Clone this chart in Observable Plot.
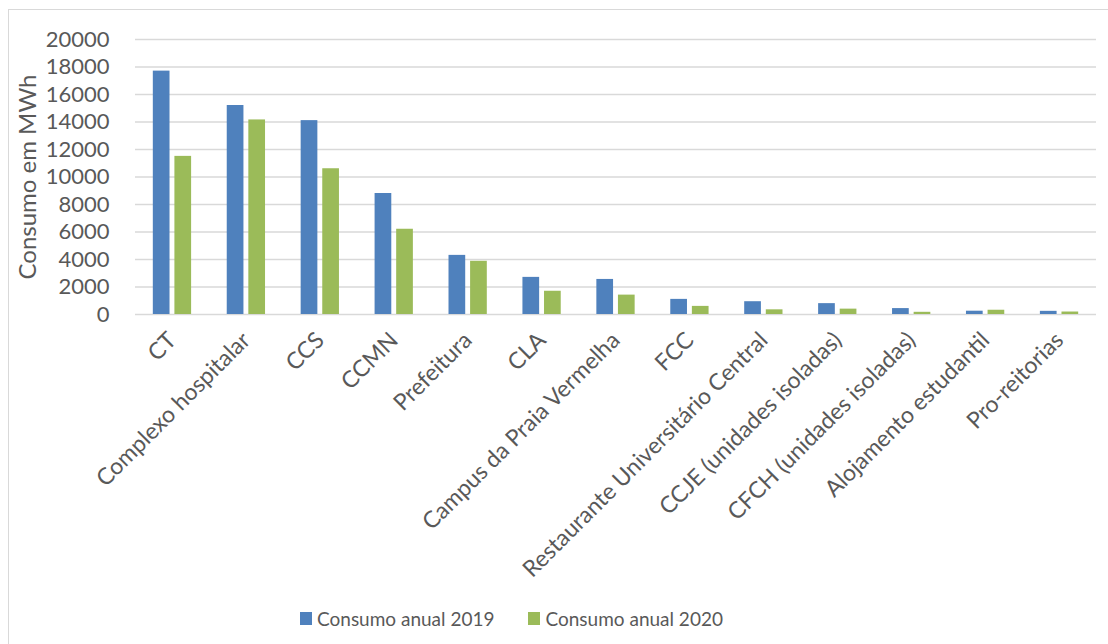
<!DOCTYPE html>
<html>
<head>
<meta charset="utf-8">
<script src="https://cdn.jsdelivr.net/npm/d3@7"></script>
<script src="https://cdn.jsdelivr.net/npm/@observablehq/plot@0.6"></script>
<style>
  html, body { margin: 0; padding: 0; background: #fff; }
  #wrap { position: relative; width: 1108px; height: 644px; overflow: hidden; font-family: Lato, "Open Sans", sans-serif; }
  #frame { position: absolute; left: 8px; top: 9px; width: 1200px; height: 700px; border-left: 1.5px solid #d9d9d9; border-top: 1.5px solid #d9d9d9; }
  #chart { position: absolute; left: 0; top: 0; }
  #legend { position: absolute; left: 300px; top: 607px; display: flex; align-items: center; color: #595959; font-size: 19px; }
  .item { display: flex; align-items: center; margin-right: 34px; }
  .sw { width: 12px; height: 13px; margin-right: 5px; }
</style>
</head>
<body>
<div id="wrap">
  <div id="frame"></div>
  <div id="chart"></div>
  <div id="legend"></div>
</div>
<script>
const categorias = ["CT", "Complexo hospitalar", "CCS", "CCMN", "Prefeitura", "CLA", "Campus da Praia Vermelha", "FCC", "Restaurante Universitário Central", "CCJE (unidades isoladas)", "CFCH (unidades isoladas)", "Alojamento estudantil", "Pro-reitorias"];
const consumo2019 = [17700, 15200, 14100, 8800, 4300, 2700, 2550, 1100, 930, 790, 430, 240, 230];
const consumo2020 = [11500, 14150, 10600, 6200, 3870, 1690, 1410, 590, 340, 390, 160, 310, 180];
const series = ["Consumo anual 2019", "Consumo anual 2020"];
const cores = ["#4F81BD", "#9BBB59"];
const yTicks = d3.range(0, 20001, 2000);

const data = categorias.flatMap((c, i) => [
  {categoria: c, serie: series[0], valor: consumo2019[i]},
  {categoria: c, serie: series[1], valor: consumo2020[i]}
]);

const W = 1108, H = 590, ML = 135, MR = 12, MT = 39, MB = H - 314;
const pin = 0.482, pout = 0.241;
const step = (W - ML - MR) / (categorias.length - pin + 2 * pout);
const bw = step * (1 - pin);
const barW = 16.7;
const inset = bw - barW;

const chart = Plot.plot({
  width: W, height: H,
  marginLeft: ML, marginRight: MR, marginTop: MT, marginBottom: MB,
  style: {fontFamily: "Lato, 'Open Sans', sans-serif", color: "#595959", background: "transparent", overflow: "visible"},
  x: {domain: categorias, paddingInner: pin, paddingOuter: pout, round: false, label: null},
  y: {domain: [0, 20000], label: null},
  color: {domain: series, range: cores},
  marks: [
    Plot.ruleY(yTicks, {stroke: "#d9d9d9", strokeWidth: 1.5}),
    Plot.barY(data.filter(d => d.serie === series[0]), {x: "categoria", y: "valor", fill: "serie", insetRight: inset, insetLeft: 0}),
    Plot.barY(data.filter(d => d.serie === series[1]), {x: "categoria", y: "valor", fill: "serie", insetLeft: inset, insetRight: 0}),
    Plot.axisY({ticks: yTicks, tickSize: 0, tickPadding: 26, fontSize: 22, label: null, tickFormat: d => String(d)}),
    Plot.axisX({tickSize: 0, tickPadding: 22, tickRotate: -45, fontSize: 23, label: null}),
    Plot.text(["Consumo em MWh"], {frameAnchor: "left", textAnchor: "middle", text: d => d, rotate: -90, dx: -107, fontSize: 24, fill: "#595959"})
  ]
});
document.getElementById("chart").appendChild(chart);

const legend = document.getElementById("legend");
series.forEach((s, i) => {
  const it = document.createElement("div");
  it.className = "item";
  const sw = document.createElement("div");
  sw.className = "sw";
  sw.style.background = cores[i];
  const t = document.createElement("span");
  t.textContent = s;
  it.appendChild(sw);
  it.appendChild(t);
  legend.appendChild(it);
});
</script>
</body>
</html>
